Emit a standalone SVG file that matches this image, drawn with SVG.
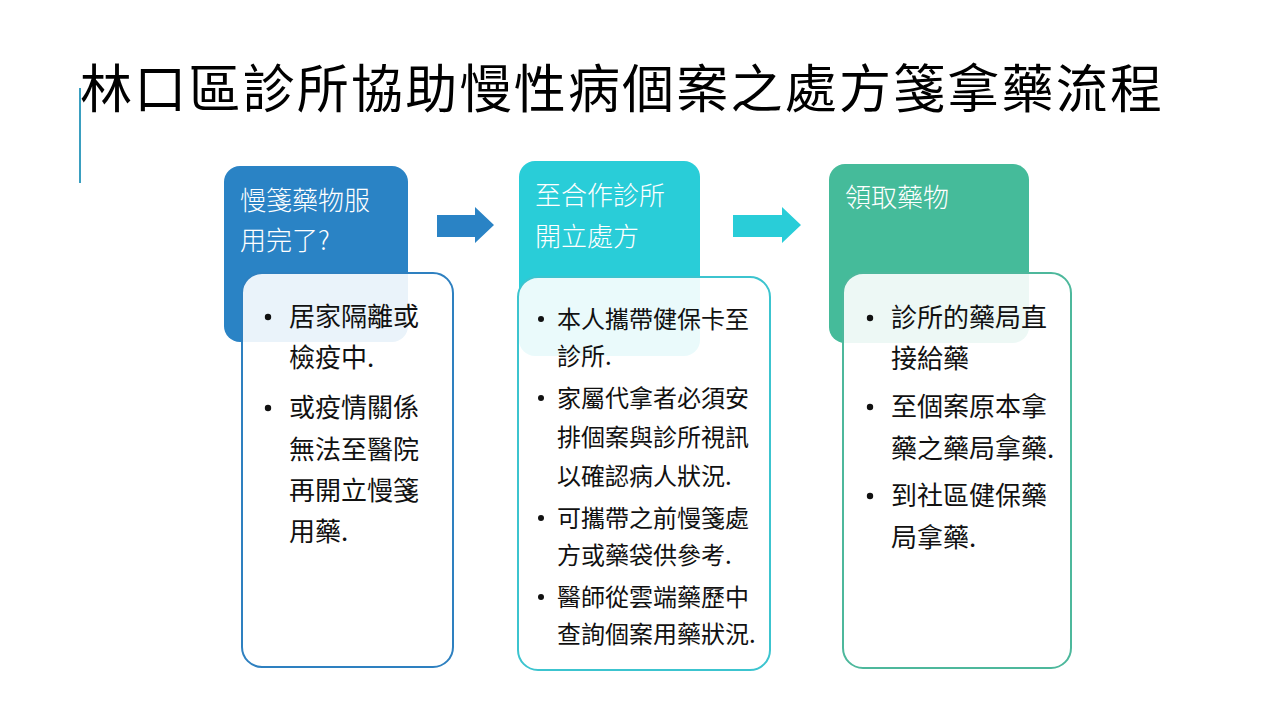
<svg xmlns="http://www.w3.org/2000/svg" width="1280" height="720" viewBox="0 0 1280 720">
<style>
.t{font-family:"Noto Sans CJK TC","Noto Sans CJK SC",sans-serif;}
.title{font-size:52px;fill:#000;}
.hd{font-size:26px;fill:#fff;font-weight:300;}
.bd{font-size:26px;fill:#111;}
.bd2{font-size:24px;fill:#111;}
.body{fill:#fff;fill-opacity:0.9;stroke-width:2;}
</style>
<rect width="1280" height="720" fill="#fff"/>
<line x1="80" y1="88" x2="80" y2="183" stroke="#3A9FC0" stroke-width="2"/>
<text class="t title" x="80" y="108" textLength="1082" lengthAdjust="spacing">林口區診所協助慢性病個案之處方箋拿藥流程</text>

<g id="connectors">
<polygon points="437,215 475,215 475,207 494,225 475,243 475,237 437,237" fill="#2A83C5"/>
<polygon points="733,215 782,215 782,207 801,225 782,243 782,237 733,237" fill="#29CDD8"/>
</g>

<g id="node1">
<rect x="224" y="166" width="184" height="176" rx="16" fill="#2A83C5"/>
<text class="t hd" x="240" y="210">慢箋藥物服</text>
<text class="t hd" x="240" y="250">用完了?</text>
<rect class="body" x="242" y="273" width="211" height="394" rx="20" stroke="#2E80C0"/>
<circle cx="268" cy="317" r="3.2" fill="#111"/>
<circle cx="268" cy="408" r="3.2" fill="#111"/>
<text class="t bd" x="289" y="326">居家隔離或</text>
<text class="t bd" x="289" y="367">檢疫中.</text>
<text class="t bd" x="289" y="417">或疫情關係</text>
<text class="t bd" x="289" y="459">無法至醫院</text>
<text class="t bd" x="289" y="500">再開立慢箋</text>
<text class="t bd" x="289" y="541">用藥.</text>
</g>

<g id="node2">
<rect x="519" y="161" width="181" height="195" rx="16" fill="#29CDD8"/>
<text class="t hd" x="535" y="205">至合作診所</text>
<text class="t hd" x="535" y="246">開立處方</text>
<rect class="body" x="518" y="277" width="252" height="393" rx="20" stroke="#3CC4CF"/>
<circle cx="541" cy="319" r="3" fill="#111"/>
<circle cx="541" cy="398" r="3" fill="#111"/>
<circle cx="541" cy="518" r="3" fill="#111"/>
<circle cx="541" cy="597" r="3" fill="#111"/>
<text class="t bd2" x="557" y="328">本人攜帶健保卡至</text>
<text class="t bd2" x="557" y="365">診所.</text>
<text class="t bd2" x="557" y="407">家屬代拿者必須安</text>
<text class="t bd2" x="557" y="446">排個案與診所視訊</text>
<text class="t bd2" x="557" y="485">以確認病人狀況.</text>
<text class="t bd2" x="557" y="527">可攜帶之前慢箋處</text>
<text class="t bd2" x="557" y="564">方或藥袋供參考.</text>
<text class="t bd2" x="557" y="606">醫師從雲端藥歷中</text>
<text class="t bd2" x="557" y="643">查詢個案用藥狀況.</text>
</g>

<g id="node3">
<rect x="829" y="164" width="200" height="179" rx="16" fill="#45BB9A"/>
<text class="t hd" x="845" y="207">領取藥物</text>
<rect class="body" x="843" y="273" width="228" height="395" rx="20" stroke="#4DB89C"/>
<circle cx="870" cy="318" r="3.2" fill="#111"/>
<circle cx="870" cy="407" r="3.2" fill="#111"/>
<circle cx="870" cy="496" r="3.2" fill="#111"/>
<text class="t bd" x="891" y="327">診所的藥局直</text>
<text class="t bd" x="891" y="368">接給藥</text>
<text class="t bd" x="891" y="416">至個案原本拿</text>
<text class="t bd" x="891" y="458">藥之藥局拿藥.</text>
<text class="t bd" x="891" y="505">到社區健保藥</text>
<text class="t bd" x="891" y="547">局拿藥.</text>
</g>
</svg>
